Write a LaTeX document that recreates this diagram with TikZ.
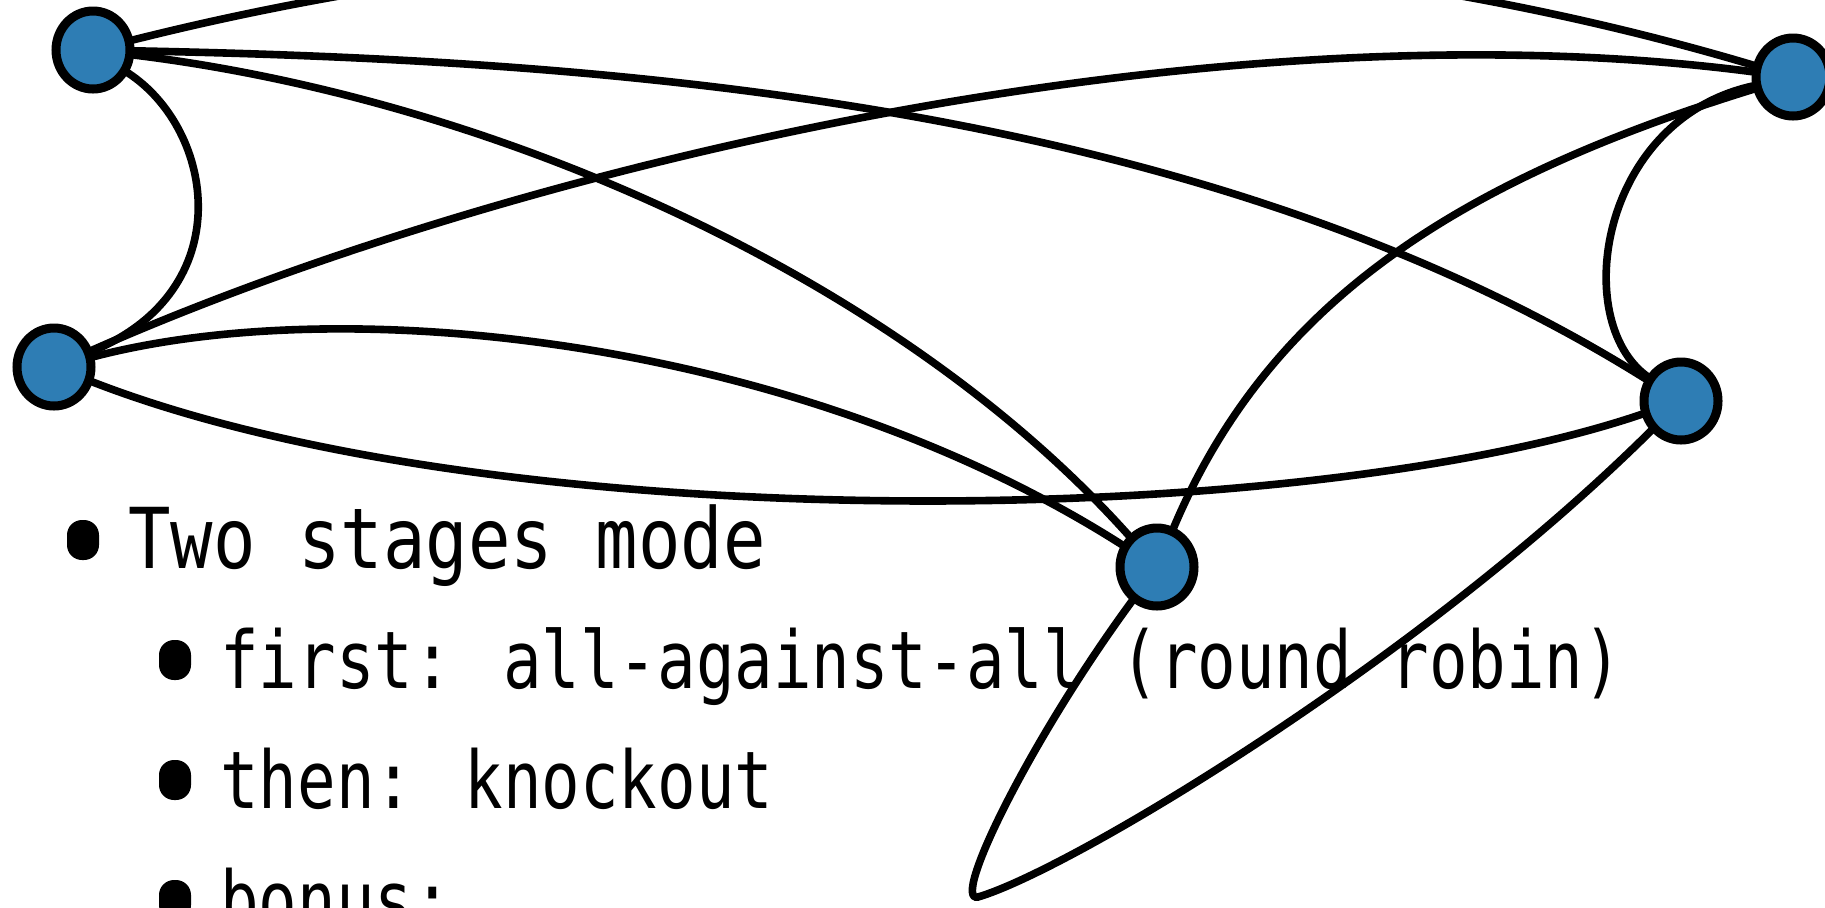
\documentclass[tikz,border=0pt]{standalone}
\usepackage{fontspec}
\usetikzlibrary{shapes.geometric,shadows}
\newfontfamily\slidefont[FakeStretch=0.805]{DejaVu Sans Mono}
\newfontfamily\slidefontbig[FakeStretch=0.84]{DejaVu Sans Mono}
\definecolor{nodeblue}{RGB}{46,125,180}
\tikzset{
  vertex/.style={ellipse, draw=black, line width=4.5pt, fill=nodeblue, inner sep=0pt,
    minimum width=37pt, minimum height=39pt,
    drop shadow={shadow xshift=0.5pt, shadow yshift=-2pt, opacity=0.25}},
  edge/.style={draw=black, line width=3.8pt, line cap=round},
  bulletmark/.style={fill=black, rounded corners=7.5pt, minimum width=16pt, minimum height=20pt, inner sep=0pt},
  itemtext/.style={anchor=base west, inner sep=0pt, font=\slidefont\fontsize{39.8pt}{48pt}\selectfont},
  topitemtext/.style={anchor=base west, inner sep=0pt, font=\slidefontbig\fontsize{42pt}{50pt}\selectfont}
}
\begin{document}
\begin{tikzpicture}[x=0.5pt,y=-0.5pt]
\useasboundingbox (0,0) rectangle (1825,907);
\clip (0,0) rectangle (1825,907);
% text
\node[bulletmark] (b1) at (83,540) {};
\node[topitemtext] (t1) at (128,568) {Two stages mode};
\node[bulletmark] (b2) at (175,660) {};
\node[itemtext] (t2) at (220,688) {first: all-against-all (round robin)};
\node[bulletmark] (b3) at (175,780) {};
\node[itemtext] (t3) at (220,808) {then: knockout};
\node[bulletmark] (b4) at (175,900) {};
\node[itemtext] (t4) at (220,928) {bonus:};
% vertices
\node[vertex] (A) at (93,50) {};
\node[vertex] (B) at (54,367) {};
\node[vertex] (C) at (1793,77) {};
\node[vertex] (D) at (1681,401) {};
\node[vertex] (E) at (1157,567) {};
% edges
\draw[edge] (A) .. controls (650,-90) and (1250,-85) .. (C);
\draw[edge] (A) .. controls (600,60) and (1200,100) .. (D);
\draw[edge] (A) .. controls (500,100) and (900,280) .. (E);
\draw[edge] (A) .. controls (215,130) and (240,290) .. (B);
\draw[edge] (B) .. controls (500,170) and (1200,0) .. (C);
\draw[edge] (B) .. controls (350,290) and (800,340) .. (E);
\draw[edge] (B) .. controls (500,540) and (1300,530) .. (D);
\draw[edge] (C) .. controls (1600,120) and (1570,320) .. (D);
\draw[edge] (C) .. controls (1460,180) and (1270,300) .. (E);
\coordinate (loop) at (978,897);
\draw[edge] (D) .. controls (1420,660) and (1070,870) .. (loop)
  .. controls (950,903) and (1030,740) .. (E);
\end{tikzpicture}
\end{document}
